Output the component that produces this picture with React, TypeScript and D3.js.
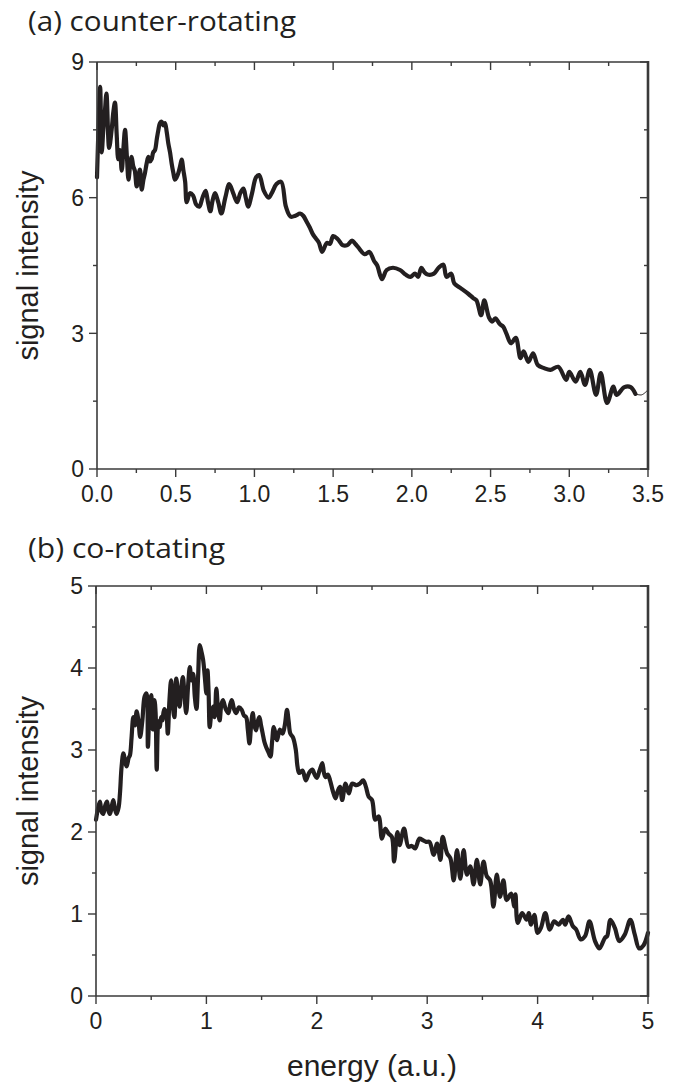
import React from "react";
import * as d3 from "d3";

// ---------- data ----------
const topEnergy = [0.0, 0.01, 0.02, 0.03, 0.04, 0.05, 0.06, 0.077, 0.093, 0.104, 0.114, 0.125, 0.135, 0.146, 0.157, 0.168, 0.178, 0.19, 0.2, 0.21, 0.22, 0.23, 0.24, 0.252, 0.262, 0.273, 0.284, 0.295, 0.305, 0.315, 0.326, 0.337, 0.347, 0.357, 0.368, 0.38, 0.39, 0.4, 0.411, 0.422, 0.432, 0.443, 0.453, 0.464, 0.474, 0.485, 0.495, 0.506, 0.517, 0.528, 0.538, 0.549, 0.56, 0.57, 0.59, 0.61, 0.63, 0.65, 0.67, 0.69, 0.705, 0.72, 0.735, 0.75, 0.77, 0.79, 0.815, 0.84, 0.865, 0.89, 0.91, 0.93, 0.945, 0.96, 0.985, 1.01, 1.03, 1.06, 1.09, 1.11, 1.14, 1.17, 1.2, 1.23, 1.26, 1.29, 1.31, 1.33, 1.35, 1.37, 1.39, 1.41, 1.43, 1.46, 1.48, 1.5, 1.53, 1.56, 1.59, 1.62, 1.64, 1.66, 1.7, 1.73, 1.76, 1.78, 1.81, 1.84, 1.88, 1.925, 1.96, 1.99, 2.02, 2.04, 2.06, 2.08, 2.1, 2.14, 2.17, 2.2, 2.22, 2.25, 2.27, 2.31, 2.36, 2.39, 2.41, 2.44, 2.46, 2.49, 2.51, 2.53, 2.56, 2.58, 2.6, 2.63, 2.66, 2.69, 2.71, 2.74, 2.77, 2.8, 2.84, 2.88, 2.93, 2.98, 3.0, 3.04, 3.07, 3.1, 3.13, 3.17, 3.2, 3.24, 3.28, 3.3, 3.35, 3.39, 3.42];
const topSignal = [6.45, 7.6, 8.45, 7.0, 7.5, 7.9, 8.3, 7.1, 7.5, 7.9, 8.1, 7.4, 6.85, 7.05, 6.6, 7.1, 7.5, 6.9, 6.4, 6.7, 6.9, 6.7, 6.6, 6.25, 6.45, 6.62, 6.18, 6.4, 6.55, 6.75, 6.9, 6.8, 6.85, 7.0, 7.05, 7.3, 7.5, 7.65, 7.68, 7.6, 7.65, 7.45, 7.2, 7.0, 6.76, 6.55, 6.4, 6.45, 6.55, 6.7, 6.84, 6.6, 6.35, 5.9, 6.1, 6.05, 5.85, 5.8, 6.0, 6.15, 5.9, 5.7, 5.95, 6.1, 5.9, 5.65, 6.0, 6.3, 6.1, 5.9, 6.1, 6.2, 6.0, 5.8, 6.1, 6.45, 6.5, 6.15, 6.0, 6.1, 6.3, 6.35, 5.8, 5.58, 5.6, 5.65, 5.6, 5.48, 5.35, 5.2, 5.1, 5.0, 4.8, 5.0, 4.98, 5.15, 5.08, 4.95, 4.95, 5.05, 4.98, 4.9, 4.75, 4.8, 4.6, 4.5, 4.2, 4.4, 4.45, 4.4, 4.3, 4.25, 4.32, 4.25, 4.45, 4.35, 4.3, 4.32, 4.45, 4.52, 4.25, 4.32, 4.1, 4.0, 3.87, 3.78, 3.73, 3.4, 3.73, 3.35, 3.26, 3.33, 3.2, 3.15, 3.0, 2.78, 2.9, 2.45, 2.6, 2.37, 2.56, 2.3, 2.23, 2.19, 2.26, 1.97, 2.15, 1.93, 2.15, 1.86, 2.19, 1.64, 2.12, 1.46, 1.82, 1.64, 1.81, 1.81, 1.66];
const topTailEnergy = [3.42, 3.46, 3.5];
const topTailSignal = [1.66, 1.64, 1.75];

const bottomEnergy = [0, 0.02, 0.036, 0.05, 0.066, 0.085, 0.1, 0.115, 0.127, 0.145, 0.157, 0.172, 0.187, 0.205, 0.217, 0.232, 0.248, 0.265, 0.278, 0.295, 0.308, 0.322, 0.338, 0.353, 0.368, 0.385, 0.4, 0.42, 0.44, 0.457, 0.47, 0.485, 0.5, 0.515, 0.53, 0.54, 0.55, 0.565, 0.577, 0.59, 0.6, 0.618, 0.636, 0.65, 0.665, 0.68, 0.695, 0.71, 0.727, 0.742, 0.757, 0.772, 0.787, 0.8, 0.817, 0.835, 0.85, 0.865, 0.88, 0.895, 0.91, 0.925, 0.94, 0.955, 0.97, 0.985, 1.0, 1.01, 1.02, 1.03, 1.045, 1.06, 1.075, 1.09, 1.105, 1.12, 1.135, 1.15, 1.175, 1.2, 1.215, 1.23, 1.25, 1.27, 1.295, 1.32, 1.34, 1.36, 1.375, 1.39, 1.405, 1.42, 1.435, 1.45, 1.465, 1.48, 1.495, 1.51, 1.525, 1.54, 1.56, 1.58, 1.595, 1.61, 1.625, 1.64, 1.665, 1.69, 1.71, 1.73, 1.745, 1.76, 1.785, 1.81, 1.825, 1.84, 1.87, 1.9, 1.93, 1.96, 1.98, 2.0, 2.025, 2.05, 2.065, 2.08, 2.1, 2.12, 2.145, 2.17, 2.19, 2.21, 2.23, 2.26, 2.29, 2.32, 2.36, 2.39, 2.42, 2.445, 2.47, 2.5, 2.53, 2.56, 2.59, 2.62, 2.65, 2.68, 2.7, 2.73, 2.75, 2.79, 2.83, 2.86, 2.89, 2.93, 2.96, 2.99, 3.02, 3.06, 3.09, 3.12, 3.14, 3.18, 3.21, 3.24, 3.27, 3.3, 3.33, 3.36, 3.39, 3.42, 3.45, 3.48, 3.51, 3.54, 3.57, 3.6, 3.63, 3.66, 3.69, 3.72, 3.76, 3.79, 3.8, 3.82, 3.86, 3.9, 3.92, 3.94, 3.97, 4.0, 4.03, 4.07, 4.11, 4.15, 4.19, 4.23, 4.25, 4.28, 4.32, 4.35, 4.39, 4.43, 4.47, 4.52, 4.56, 4.61, 4.63, 4.66, 4.7, 4.74, 4.79, 4.84, 4.88, 4.92, 4.96, 5.0];
const bottomSignal = [2.15, 2.3, 2.37, 2.25, 2.22, 2.33, 2.37, 2.25, 2.22, 2.33, 2.39, 2.28, 2.22, 2.3, 2.47, 2.8, 2.96, 2.85, 2.8, 2.9, 2.94, 3.15, 3.4, 3.3, 3.47, 3.35, 3.16, 3.36, 3.65, 3.69, 3.04, 3.5, 3.67, 3.25, 3.61, 3.45, 2.76, 3.35, 3.28, 3.4, 3.36, 3.5, 3.45, 3.2, 3.6, 3.85, 3.55, 3.4, 3.87, 3.7, 3.53, 3.75, 3.89, 3.7, 3.45, 3.8, 4.01, 3.85, 3.93, 3.65, 3.5, 3.9, 4.28, 4.2, 4.1, 3.9, 3.69, 3.97, 3.7, 3.28, 3.45, 3.53, 3.4, 3.75, 3.5, 3.36, 3.55, 3.61, 3.5, 3.45, 3.55, 3.61, 3.5, 3.45, 3.52, 3.49, 3.42, 3.4, 3.25, 3.08, 3.3, 3.45, 3.3, 3.24, 3.35, 3.4, 3.3, 3.2, 3.1, 3.04, 2.98, 2.92, 3.1, 3.28, 3.2, 3.12, 3.25, 3.2, 3.3, 3.49, 3.35, 3.2, 3.15, 3.0, 2.8, 2.72, 2.75, 2.63, 2.72, 2.76, 2.7, 2.66, 2.75, 2.84, 2.72, 2.67, 2.7, 2.63, 2.5, 2.41, 2.5, 2.55, 2.39, 2.59, 2.47, 2.59, 2.57, 2.59, 2.63, 2.55, 2.43, 2.39, 2.15, 2.19, 1.92, 2.04, 1.98, 1.94, 1.64, 2.0, 1.84, 2.04, 1.82, 1.83, 1.8, 1.92, 1.9, 1.88, 1.88, 1.72, 1.86, 1.66, 1.94, 1.74, 1.68, 1.41, 1.78, 1.43, 1.78, 1.48, 1.58, 1.36, 1.66, 1.36, 1.64, 1.46, 1.41, 1.09, 1.48, 1.21, 1.41, 1.17, 1.25, 1.09, 1.24, 0.89, 1.01, 0.93, 1.01, 0.87, 0.99, 0.77, 0.83, 1.01, 0.81, 0.91, 0.87, 0.93, 0.87, 0.97, 0.85, 0.81, 0.69, 0.73, 0.91, 0.67, 0.58, 0.71, 0.73, 0.93, 0.83, 0.67, 0.75, 0.93, 0.75, 0.58, 0.62, 0.77];

const topXTicks = [0, 0.5, 1.0, 1.5, 2.0, 2.5, 3.0, 3.5];
const topYTicks = [0, 3, 6, 9];
const bottomXTicks = [0, 1, 2, 3, 4, 5];
const bottomYTicks = [0, 1, 2, 3, 4, 5];

const INK = "#231f20";
const AXIS = "#3a3a3a";
const NUM_FONT = "'Liberation Sans', Arial, Helvetica, sans-serif";
const TITLE_FONT = "'Open Sans', 'Noto Sans', sans-serif";

type PanelProps = {
  title: string;
  titleY: number;
  titleWidth: number;
  left: number; right: number; top: number; bottom: number;
  xMax: number; yMax: number;
  xTicks: number[]; yTicks: number[];
  xMinorStep: number; yMinorStep: number;
  xFmt: (v: number) => string;
  xs: number[]; ys: number[];
  tailX?: number[]; tailY?: number[];
  curve: d3.CurveFactory;
};

function Panel(p: PanelProps) {
  const x = d3.scaleLinear().domain([0, p.xMax]).range([p.left, p.right]);
  const y = d3.scaleLinear().domain([0, p.yMax]).range([p.bottom, p.top]);
  const xMinor = d3.range(0, p.xMax + 1e-9, p.xMinorStep);
  const yMinor = d3.range(0, p.yMax + 1e-9, p.yMinorStep);
  const isMajorX = (v: number) => p.xTicks.some((t) => Math.abs(t - v) < 1e-6);
  const isMajorY = (v: number) => p.yTicks.some((t) => Math.abs(t - v) < 1e-6);
  const line = d3
    .line<number>()
    .x((_, i) => x(p.xs[i]))
    .y((_, i) => y(p.ys[i]))
    .curve(p.curve);
  const tailLine = d3
    .line<number>()
    .x((_, i) => x((p.tailX as number[])[i]))
    .y((_, i) => y((p.tailY as number[])[i]))
    .curve(d3.curveCatmullRom);
  const midY = (p.top + p.bottom) / 2;
  return (
    <g>
      <text
        x={28}
        y={p.titleY}
        fontFamily={TITLE_FONT}
        fontSize={27}
        fill={INK}
        textLength={p.titleWidth}
        lengthAdjust="spacingAndGlyphs"
      >
        {p.title}
      </text>
      {/* data */}
      <path d={line(p.xs) || ""} fill="none" stroke={INK} strokeWidth={4.2} strokeLinejoin="round" strokeLinecap="round" />
      {p.tailX && p.tailY ? (
        <path d={tailLine(p.tailX) || ""} fill="none" stroke={INK} strokeWidth={1} />
      ) : null}
      {/* frame */}
      <line x1={p.left} x2={p.right} y1={p.top} y2={p.top} stroke={AXIS} strokeWidth={1.6} />
      <line x1={p.left} x2={p.right} y1={p.bottom} y2={p.bottom} stroke={AXIS} strokeWidth={1.6} />
      <line x1={p.left} x2={p.left} y1={p.top} y2={p.bottom} stroke={AXIS} strokeWidth={1.6} />
      <line x1={p.right} x2={p.right} y1={p.top - 1} y2={p.bottom + 1} stroke={AXIS} strokeWidth={2.6} />
      {/* x ticks */}
      {xMinor.map((v, i) => {
        const L = isMajorX(v) ? 8 : 4;
        const xx = x(v);
        return (
          <g key={"xt" + i}>
            <line x1={xx} x2={xx} y1={p.bottom} y2={p.bottom + L} stroke={AXIS} strokeWidth={1.4} />
            <line x1={xx} x2={xx} y1={p.top} y2={p.top + L} stroke={AXIS} strokeWidth={1.4} />
          </g>
        );
      })}
      {/* y ticks */}
      {yMinor.map((v, i) => {
        const L = isMajorY(v) ? 8 : 4;
        const yy = y(v);
        return (
          <g key={"yt" + i}>
            <line x1={p.left - L} x2={p.left} y1={yy} y2={yy} stroke={AXIS} strokeWidth={1.4} />
            <line x1={p.right - L} x2={p.right} y1={yy} y2={yy} stroke={AXIS} strokeWidth={1.4} />
          </g>
        );
      })}
      {p.xTicks.map((v, i) => (
        <text key={"xl" + i} x={x(v)} y={p.bottom + 33} textAnchor="middle" fontFamily={NUM_FONT} fontSize={23} fill={INK}>
          {p.xFmt(v)}
        </text>
      ))}
      {p.yTicks.map((v, i) => (
        <text key={"yl" + i} x={p.left - 13} y={y(v)} dy="0.36em" textAnchor="end" fontFamily={NUM_FONT} fontSize={23} fill={INK}>
          {String(v)}
        </text>
      ))}
      <text
        transform={`translate(38,${midY}) rotate(-90)`}
        textAnchor="middle"
        fontFamily={NUM_FONT}
        fontSize={29}
        fill={INK}
      >
        signal intensity
      </text>
    </g>
  );
}

export default function App() {
  return (
    <svg
      width={681}
      height={1083}
      viewBox="0 0 681 1083"
      style={{ position: "absolute", left: 0, top: 0, background: "#fff" }}
    >
      <rect x={0} y={0} width={681} height={1083} fill="#fff" />
      <Panel
        title="(a) counter-rotating"
        titleY={31}
        titleWidth={268}
        left={97} right={648} top={62} bottom={469}
        xMax={3.5} yMax={9}
        xTicks={topXTicks} yTicks={topYTicks}
        xMinorStep={0.25} yMinorStep={1.5}
        xFmt={(v) => v.toFixed(1)}
        xs={topEnergy} ys={topSignal}
        tailX={topTailEnergy} tailY={topTailSignal}
        curve={d3.curveCatmullRom}
      />
      <Panel
        title="(b) co-rotating"
        titleY={558}
        titleWidth={197}
        left={96} right={648} top={586} bottom={996}
        xMax={5} yMax={5}
        xTicks={bottomXTicks} yTicks={bottomYTicks}
        xMinorStep={0.5} yMinorStep={0.5}
        xFmt={(v) => String(v)}
        xs={bottomEnergy} ys={bottomSignal}
        curve={d3.curveCatmullRom}
      />
      <text x={372} y={1076} textAnchor="middle" fontFamily={NUM_FONT} fontSize={30} fill={INK}>
        energy (a.u.)
      </text>
    </svg>
  );
}
